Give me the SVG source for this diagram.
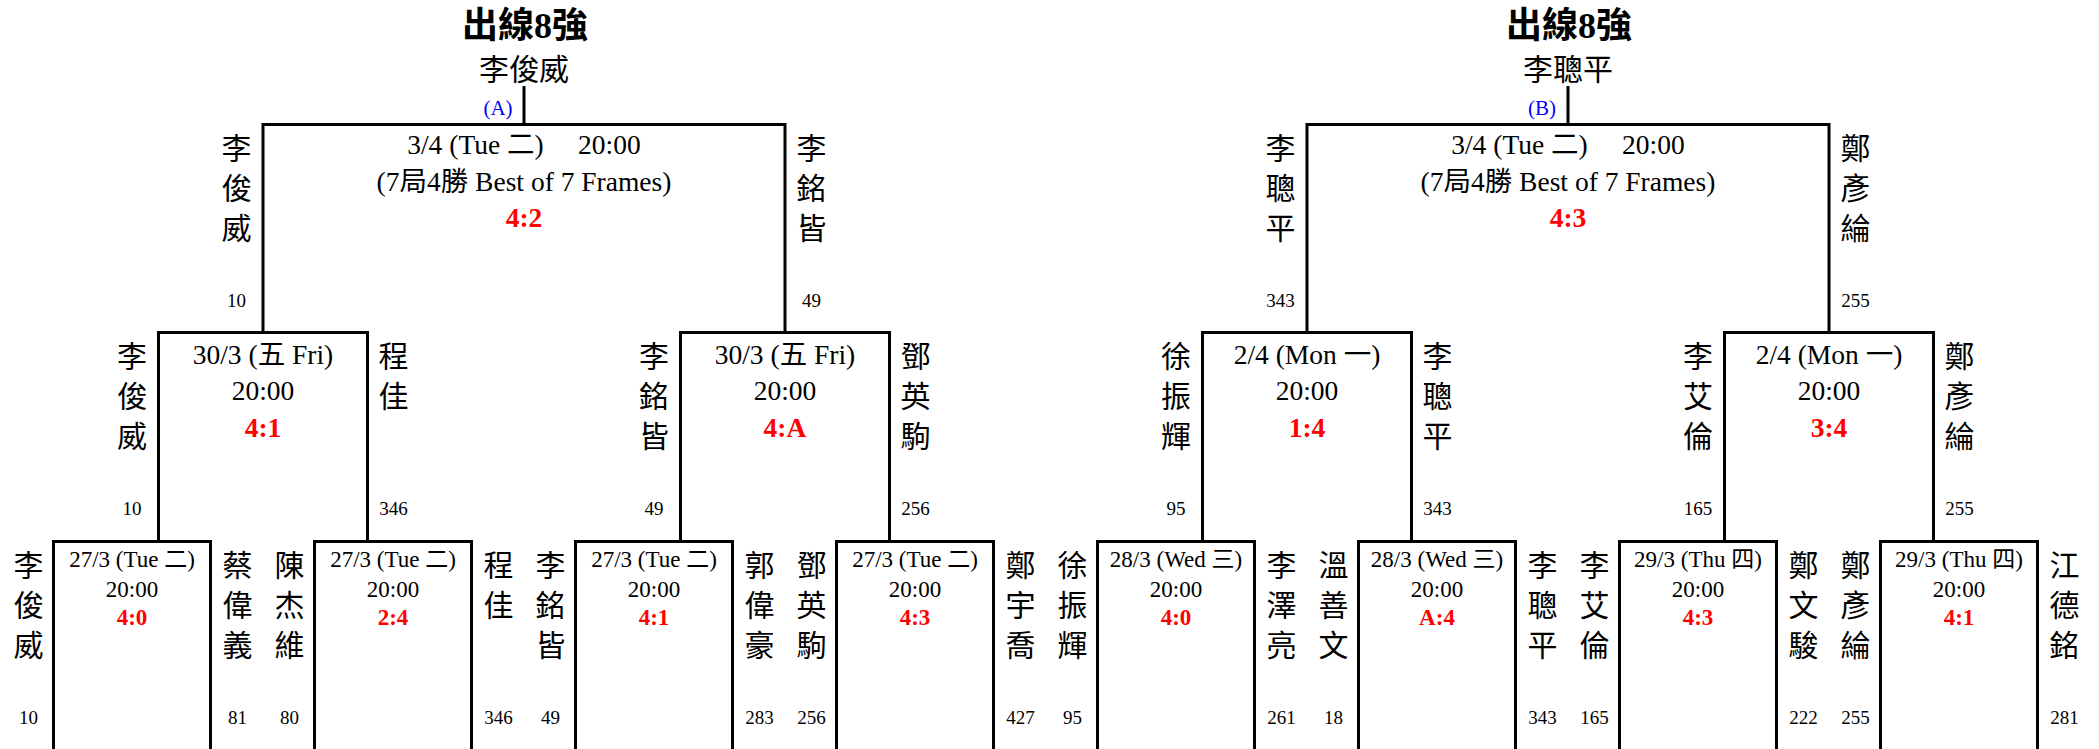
<svg xmlns="http://www.w3.org/2000/svg" width="2099" height="749" viewBox="0 0 2099 749">
<style>
.ln{fill:none;stroke:#000;stroke-width:3;stroke-linejoin:miter}
text{font-family:"Liberation Serif","Noto Sans CJK TC",serif;fill:#000;text-anchor:middle}
.ttl{font-size:36px;font-weight:bold}
.win{font-size:30px}
.tag{font-size:21px;fill:#00f}
.f1{font-size:23px}
.f2{font-size:27.5px}
.sc{font-weight:bold;fill:#f00}
.nm{font-size:30px}
.num{font-size:19px}
.pre{white-space:pre}
</style>
<rect x="0" y="0" width="2099" height="749" fill="#fff"/>
<g id="connectors">
<path class="ln" d="M524,86V124.5M1568,86V124.5"/>
<path class="ln" d="M263,332.5V124.5H785V332.5"/>
<path class="ln" d="M1307,332.5V124.5H1829V332.5"/>
<path class="ln" d="M158.5,541.5V332.5H367.5V541.5"/>
<path class="ln" d="M680.5,541.5V332.5H889.5V541.5"/>
<path class="ln" d="M1202.5,541.5V332.5H1411.5V541.5"/>
<path class="ln" d="M1724.5,541.5V332.5H1933.5V541.5"/>
<path class="ln" d="M53.5,749V541.5H210.5V749"/>
<path class="ln" d="M314.5,749V541.5H471.5V749"/>
<path class="ln" d="M575.5,749V541.5H732.5V749"/>
<path class="ln" d="M836.5,749V541.5H993.5V749"/>
<path class="ln" d="M1097.5,749V541.5H1254.5V749"/>
<path class="ln" d="M1358.5,749V541.5H1515.5V749"/>
<path class="ln" d="M1619.5,749V541.5H1776.5V749"/>
<path class="ln" d="M1880.5,749V541.5H2037.5V749"/>
</g>
<g id="final-A">
<text class="ttl" x="525" y="38">出線8強</text>
<text class="win" x="524" y="80">李俊威</text>
<text class="tag" x="498" y="115">(A)</text>
</g>
<g id="final-B">
<text class="ttl" x="1569" y="38">出線8強</text>
<text class="win" x="1568" y="80">李聰平</text>
<text class="tag" x="1542" y="115">(B)</text>
</g>
<g id="qf-A">
<text class="f2 pre" x="524" y="154">3/4 (Tue 二)     20:00</text>
<text class="f2" x="524" y="191">(7局4勝 Best of 7 Frames)</text>
<text class="f2 sc" x="524" y="227">4:2</text>
<text class="nm"><tspan x="236.5" y="159">李</tspan><tspan x="236.5" y="199">俊</tspan><tspan x="236.5" y="239">威</tspan></text>
<text class="num" x="236.5" y="306.5">10</text>
<text class="nm"><tspan x="811.5" y="159">李</tspan><tspan x="811.5" y="199">銘</tspan><tspan x="811.5" y="239">皆</tspan></text>
<text class="num" x="811.5" y="306.5">49</text>
</g>
<g id="qf-B">
<text class="f2 pre" x="1568" y="154">3/4 (Tue 二)     20:00</text>
<text class="f2" x="1568" y="191">(7局4勝 Best of 7 Frames)</text>
<text class="f2 sc" x="1568" y="227">4:3</text>
<text class="nm"><tspan x="1280.5" y="159">李</tspan><tspan x="1280.5" y="199">聰</tspan><tspan x="1280.5" y="239">平</tspan></text>
<text class="num" x="1280.5" y="306.5">343</text>
<text class="nm"><tspan x="1855.5" y="159">鄭</tspan><tspan x="1855.5" y="199">彥</tspan><tspan x="1855.5" y="239">綸</tspan></text>
<text class="num" x="1855.5" y="306.5">255</text>
</g>
<g id="r2-1">
<text class="f2" x="263" y="363.5">30/3 (五 Fri)</text>
<text class="f2" x="263" y="399.5">20:00</text>
<text class="f2 sc" x="263" y="436.5">4:1</text>
<text class="nm"><tspan x="132" y="367">李</tspan><tspan x="132" y="407">俊</tspan><tspan x="132" y="447">威</tspan></text>
<text class="num" x="132" y="514.5">10</text>
<text class="nm"><tspan x="393.5" y="367">程</tspan><tspan x="393.5" y="407">佳</tspan></text>
<text class="num" x="393.5" y="514.5">346</text>
</g>
<g id="r2-2">
<text class="f2" x="785" y="363.5">30/3 (五 Fri)</text>
<text class="f2" x="785" y="399.5">20:00</text>
<text class="f2 sc" x="785" y="436.5">4:A</text>
<text class="nm"><tspan x="654" y="367">李</tspan><tspan x="654" y="407">銘</tspan><tspan x="654" y="447">皆</tspan></text>
<text class="num" x="654" y="514.5">49</text>
<text class="nm"><tspan x="915.5" y="367">鄧</tspan><tspan x="915.5" y="407">英</tspan><tspan x="915.5" y="447">駒</tspan></text>
<text class="num" x="915.5" y="514.5">256</text>
</g>
<g id="r2-3">
<text class="f2" x="1307" y="363.5">2/4 (Mon 一)</text>
<text class="f2" x="1307" y="399.5">20:00</text>
<text class="f2 sc" x="1307" y="436.5">1:4</text>
<text class="nm"><tspan x="1176" y="367">徐</tspan><tspan x="1176" y="407">振</tspan><tspan x="1176" y="447">輝</tspan></text>
<text class="num" x="1176" y="514.5">95</text>
<text class="nm"><tspan x="1437.5" y="367">李</tspan><tspan x="1437.5" y="407">聰</tspan><tspan x="1437.5" y="447">平</tspan></text>
<text class="num" x="1437.5" y="514.5">343</text>
</g>
<g id="r2-4">
<text class="f2" x="1829" y="363.5">2/4 (Mon 一)</text>
<text class="f2" x="1829" y="399.5">20:00</text>
<text class="f2 sc" x="1829" y="436.5">3:4</text>
<text class="nm"><tspan x="1698" y="367">李</tspan><tspan x="1698" y="407">艾</tspan><tspan x="1698" y="447">倫</tspan></text>
<text class="num" x="1698" y="514.5">165</text>
<text class="nm"><tspan x="1959.5" y="367">鄭</tspan><tspan x="1959.5" y="407">彥</tspan><tspan x="1959.5" y="447">綸</tspan></text>
<text class="num" x="1959.5" y="514.5">255</text>
</g>
<g id="r1-1">
<text class="f1" x="132" y="567">27/3 (Tue 二)</text>
<text class="f1" x="132" y="597">20:00</text>
<text class="f1 sc" x="132" y="625">4:0</text>
<text class="nm"><tspan x="28.5" y="576">李</tspan><tspan x="28.5" y="616">俊</tspan><tspan x="28.5" y="656">威</tspan></text>
<text class="num" x="28.5" y="723.5">10</text>
<text class="nm"><tspan x="237.5" y="576">蔡</tspan><tspan x="237.5" y="616">偉</tspan><tspan x="237.5" y="656">義</tspan></text>
<text class="num" x="237.5" y="723.5">81</text>
</g>
<g id="r1-2">
<text class="f1" x="393" y="567">27/3 (Tue 二)</text>
<text class="f1" x="393" y="597">20:00</text>
<text class="f1 sc" x="393" y="625">2:4</text>
<text class="nm"><tspan x="289.5" y="576">陳</tspan><tspan x="289.5" y="616">杰</tspan><tspan x="289.5" y="656">維</tspan></text>
<text class="num" x="289.5" y="723.5">80</text>
<text class="nm"><tspan x="498.5" y="576">程</tspan><tspan x="498.5" y="616">佳</tspan></text>
<text class="num" x="498.5" y="723.5">346</text>
</g>
<g id="r1-3">
<text class="f1" x="654" y="567">27/3 (Tue 二)</text>
<text class="f1" x="654" y="597">20:00</text>
<text class="f1 sc" x="654" y="625">4:1</text>
<text class="nm"><tspan x="550.5" y="576">李</tspan><tspan x="550.5" y="616">銘</tspan><tspan x="550.5" y="656">皆</tspan></text>
<text class="num" x="550.5" y="723.5">49</text>
<text class="nm"><tspan x="759.5" y="576">郭</tspan><tspan x="759.5" y="616">偉</tspan><tspan x="759.5" y="656">豪</tspan></text>
<text class="num" x="759.5" y="723.5">283</text>
</g>
<g id="r1-4">
<text class="f1" x="915" y="567">27/3 (Tue 二)</text>
<text class="f1" x="915" y="597">20:00</text>
<text class="f1 sc" x="915" y="625">4:3</text>
<text class="nm"><tspan x="811.5" y="576">鄧</tspan><tspan x="811.5" y="616">英</tspan><tspan x="811.5" y="656">駒</tspan></text>
<text class="num" x="811.5" y="723.5">256</text>
<text class="nm"><tspan x="1020.5" y="576">鄭</tspan><tspan x="1020.5" y="616">宇</tspan><tspan x="1020.5" y="656">喬</tspan></text>
<text class="num" x="1020.5" y="723.5">427</text>
</g>
<g id="r1-5">
<text class="f1" x="1176" y="567">28/3 (Wed 三)</text>
<text class="f1" x="1176" y="597">20:00</text>
<text class="f1 sc" x="1176" y="625">4:0</text>
<text class="nm"><tspan x="1072.5" y="576">徐</tspan><tspan x="1072.5" y="616">振</tspan><tspan x="1072.5" y="656">輝</tspan></text>
<text class="num" x="1072.5" y="723.5">95</text>
<text class="nm"><tspan x="1281.5" y="576">李</tspan><tspan x="1281.5" y="616">澤</tspan><tspan x="1281.5" y="656">亮</tspan></text>
<text class="num" x="1281.5" y="723.5">261</text>
</g>
<g id="r1-6">
<text class="f1" x="1437" y="567">28/3 (Wed 三)</text>
<text class="f1" x="1437" y="597">20:00</text>
<text class="f1 sc" x="1437" y="625">A:4</text>
<text class="nm"><tspan x="1333.5" y="576">溫</tspan><tspan x="1333.5" y="616">善</tspan><tspan x="1333.5" y="656">文</tspan></text>
<text class="num" x="1333.5" y="723.5">18</text>
<text class="nm"><tspan x="1542.5" y="576">李</tspan><tspan x="1542.5" y="616">聰</tspan><tspan x="1542.5" y="656">平</tspan></text>
<text class="num" x="1542.5" y="723.5">343</text>
</g>
<g id="r1-7">
<text class="f1" x="1698" y="567">29/3 (Thu 四)</text>
<text class="f1" x="1698" y="597">20:00</text>
<text class="f1 sc" x="1698" y="625">4:3</text>
<text class="nm"><tspan x="1594.5" y="576">李</tspan><tspan x="1594.5" y="616">艾</tspan><tspan x="1594.5" y="656">倫</tspan></text>
<text class="num" x="1594.5" y="723.5">165</text>
<text class="nm"><tspan x="1803.5" y="576">鄭</tspan><tspan x="1803.5" y="616">文</tspan><tspan x="1803.5" y="656">駿</tspan></text>
<text class="num" x="1803.5" y="723.5">222</text>
</g>
<g id="r1-8">
<text class="f1" x="1959" y="567">29/3 (Thu 四)</text>
<text class="f1" x="1959" y="597">20:00</text>
<text class="f1 sc" x="1959" y="625">4:1</text>
<text class="nm"><tspan x="1855.5" y="576">鄭</tspan><tspan x="1855.5" y="616">彥</tspan><tspan x="1855.5" y="656">綸</tspan></text>
<text class="num" x="1855.5" y="723.5">255</text>
<text class="nm"><tspan x="2064.5" y="576">江</tspan><tspan x="2064.5" y="616">德</tspan><tspan x="2064.5" y="656">銘</tspan></text>
<text class="num" x="2064.5" y="723.5">281</text>
</g>
</svg>
